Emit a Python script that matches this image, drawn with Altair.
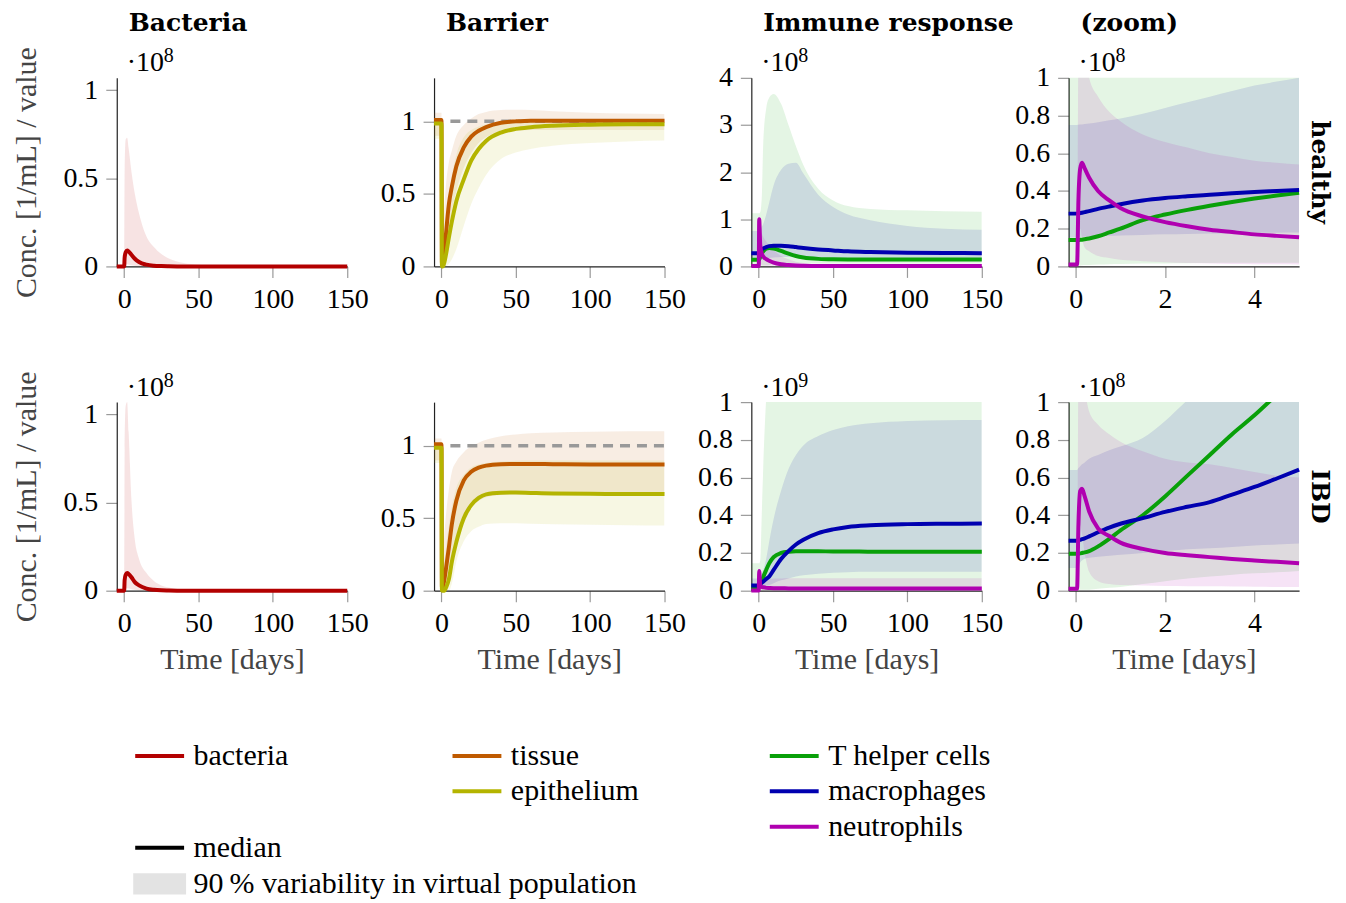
import altair as alt
import pandas as pd

# ------------------------------------------------------------------ data
T_LONG = [-5, 0, 0.3, 1, 2, 3, 5, 7, 10, 15, 20, 25, 30, 40, 50, 60, 75, 100, 125, 150]
T_ZOOM = [-0.16, 0.03, 0.06, 0.1, 0.14, 0.2, 0.3, 0.5, 0.75, 1, 1.5, 2, 2.5, 3, 3.5, 4, 4.5, 5]

# Bacteria (x 1e8)
BAC_H_MED = [0, 0, 0.05, 0.08, 0.09, 0.085, 0.065, 0.045, 0.025, 0.01, 0.004, 0.002, 0.001, 0, 0, 0, 0, 0, 0, 0]
BAC_H_LO = [0, 0, 0.005, 0.01, 0.012, 0.01, 0.007, 0.004, 0.002, 0.001, 0, 0, 0, 0, 0, 0, 0, 0, 0, 0]
BAC_H_HI = [0, 0, 0.55, 0.72, 0.73, 0.67, 0.53, 0.42, 0.3, 0.17, 0.11, 0.07, 0.045, 0.02, 0.01, 0.005, 0.002, 0, 0, 0]
BAC_I_MED = [0, 0, 0.06, 0.09, 0.1, 0.095, 0.075, 0.05, 0.03, 0.012, 0.005, 0.002, 0.001, 0, 0, 0, 0, 0, 0, 0]
BAC_I_LO = [0, 0, 0.006, 0.012, 0.014, 0.012, 0.008, 0.005, 0.002, 0.001, 0, 0, 0, 0, 0, 0, 0, 0, 0, 0]
BAC_I_HI = [0, 0, 0.8, 1.05, 1.07, 0.9, 0.5, 0.3, 0.18, 0.1, 0.055, 0.03, 0.018, 0.008, 0.004, 0.002, 0, 0, 0, 0]

# Barrier (relative value)
TIS_H_MED = [1.01, 1.01, 0.02, 0.03, 0.1, 0.22, 0.43, 0.55, 0.69, 0.82, 0.895, 0.935, 0.96, 0.99, 1.0, 1.005, 1.005, 1.005, 1.005, 1.005]
TIS_H_LO = [0.9, 0.9, 0.0, 0.0, 0.03, 0.1, 0.25, 0.38, 0.52, 0.68, 0.78, 0.85, 0.89, 0.925, 0.935, 0.94, 0.94, 0.94, 0.94, 0.94]
TIS_H_HI = [1.06, 1.06, 0.1, 0.25, 0.42, 0.56, 0.72, 0.8, 0.9, 0.975, 1.02, 1.05, 1.065, 1.078, 1.08, 1.078, 1.07, 1.06, 1.055, 1.05]
EPI_H_MED = [0.985, 0.985, 0.0, 0.0, 0.03, 0.08, 0.2, 0.31, 0.45, 0.6, 0.73, 0.81, 0.865, 0.923, 0.948, 0.96, 0.97, 0.977, 0.98, 0.98]
EPI_H_LO = [0.88, 0.88, 0.0, 0.0, 0.0, 0.0, 0.02, 0.05, 0.12, 0.28, 0.43, 0.54, 0.63, 0.74, 0.785, 0.81, 0.832, 0.85, 0.862, 0.868]
EPI_H_HI = [1.0, 1.0, 0.05, 0.1, 0.2, 0.32, 0.5, 0.63, 0.77, 0.89, 0.94, 0.965, 0.978, 0.99, 0.995, 0.998, 1.0, 1.0, 1.0, 1.0]
TIS_I_MED = [1.01, 1.01, 0.02, 0.03, 0.08, 0.15, 0.3, 0.46, 0.62, 0.76, 0.82, 0.848, 0.862, 0.872, 0.874, 0.874, 0.872, 0.87, 0.87, 0.87]
TIS_I_LO = [0.9, 0.9, 0.0, 0.0, 0.0, 0.02, 0.08, 0.18, 0.32, 0.48, 0.57, 0.62, 0.645, 0.66, 0.665, 0.665, 0.665, 0.665, 0.665, 0.665]
TIS_I_HI = [1.05, 1.05, 0.1, 0.25, 0.4, 0.52, 0.7, 0.82, 0.89, 0.955, 0.995, 1.02, 1.04, 1.065, 1.077, 1.085, 1.09, 1.095, 1.1, 1.1]
EPI_I_MED = [0.985, 0.985, 0.0, 0.0, 0.0, 0.02, 0.08, 0.2, 0.335, 0.5, 0.59, 0.64, 0.664, 0.675, 0.677, 0.674, 0.67, 0.668, 0.667, 0.667]
EPI_I_LO = [0.88, 0.88, 0.0, 0.0, 0.0, 0.0, 0.0, 0.05, 0.2, 0.34, 0.41, 0.44, 0.46, 0.465, 0.465, 0.462, 0.458, 0.455, 0.452, 0.45]
EPI_I_HI = [1.0, 1.0, 0.05, 0.1, 0.2, 0.3, 0.45, 0.58, 0.71, 0.8, 0.85, 0.87, 0.88, 0.89, 0.895, 0.897, 0.897, 0.897, 0.897, 0.897]
REF_T = [6, 150]
REF_V = [1, 1]

# Immune response, healthy (x 1e8)
THC_H_MED = [0.14, 0.14, 0.15, 0.2, 0.28, 0.32, 0.38, 0.39, 0.38, 0.33, 0.27, 0.22, 0.19, 0.16, 0.15, 0.148, 0.147, 0.146, 0.146, 0.146]
THC_H_LO = [0.01, 0.01, 0.01, 0.01, 0.01, 0.015, 0.02, 0.03, 0.04, 0.05, 0.055, 0.06, 0.06, 0.06, 0.06, 0.06, 0.06, 0.06, 0.06, 0.06]
THC_H_HI = [1.13, 1.13, 1.13, 1.15, 1.45, 2.6, 3.35, 3.58, 3.66, 3.45, 3.0, 2.55, 2.15, 1.65, 1.4, 1.28, 1.22, 1.19, 1.17, 1.16]
MAC_H_MED = [0.28, 0.28, 0.29, 0.33, 0.365, 0.38, 0.41, 0.43, 0.44, 0.44, 0.43, 0.41, 0.39, 0.36, 0.34, 0.32, 0.305, 0.29, 0.285, 0.28]
MAC_H_LO = [0.15, 0.15, 0.15, 0.15, 0.155, 0.16, 0.17, 0.18, 0.19, 0.2, 0.2, 0.2, 0.19, 0.18, 0.17, 0.165, 0.16, 0.16, 0.16, 0.16]
MAC_H_HI = [0.75, 0.75, 0.76, 0.77, 0.84, 0.9, 1.1, 1.35, 1.72, 2.05, 2.18, 2.2, 1.97, 1.52, 1.26, 1.1, 0.98, 0.86, 0.8, 0.78]
NEU_H_MED = [0.01, 0.01, 1.0, 0.45, 0.28, 0.21, 0.155, 0.12, 0.08, 0.045, 0.03, 0.02, 0.015, 0.01, 0.01, 0.01, 0.01, 0.01, 0.01, 0.01]
NEU_H_LO = [0.003, 0.003, 0.2, 0.04, 0.03, 0.02, 0.015, 0.01, 0.008, 0.005, 0.004, 0.003, 0.003, 0.003, 0.003, 0.003, 0.003, 0.003, 0.003, 0.003]
NEU_H_HI = [0.02, 0.02, 1.1, 0.8, 0.7, 0.63, 0.53, 0.45, 0.35, 0.22, 0.15, 0.1, 0.07, 0.04, 0.03, 0.03, 0.03, 0.03, 0.03, 0.03]

# Immune response, IBD (x 1e9)
THC_I_MED = [0.02, 0.02, 0.021, 0.032, 0.05, 0.072, 0.11, 0.145, 0.178, 0.2, 0.207, 0.209, 0.209, 0.209, 0.208, 0.208, 0.207, 0.207, 0.206, 0.206]
THC_I_LO = [0.003, 0.003, 0.003, 0.003, 0.003, 0.003, 0.004, 0.004, 0.005, 0.005, 0.005, 0.005, 0.005, 0.005, 0.005, 0.005, 0.005, 0.005, 0.005, 0.005]
THC_I_HI = [0.145, 0.145, 0.145, 0.16, 0.4, 0.65, 1.02, 1.2, 1.3, 1.3, 1.3, 1.3, 1.3, 1.3, 1.3, 1.3, 1.3, 1.3, 1.3, 1.3]
MAC_I_MED = [0.027, 0.027, 0.029, 0.036, 0.042, 0.048, 0.062, 0.075, 0.11, 0.168, 0.21, 0.245, 0.27, 0.305, 0.325, 0.338, 0.347, 0.353, 0.355, 0.356]
MAC_I_LO = [0.012, 0.012, 0.013, 0.015, 0.02, 0.022, 0.025, 0.03, 0.04, 0.055, 0.065, 0.075, 0.082, 0.09, 0.095, 0.098, 0.1, 0.1, 0.1, 0.1]
MAC_I_HI = [0.064, 0.064, 0.07, 0.076, 0.09, 0.11, 0.17, 0.26, 0.38, 0.53, 0.645, 0.72, 0.77, 0.82, 0.852, 0.872, 0.888, 0.9, 0.904, 0.905]
NEU_I_MED = [0.001, 0.001, 0.105, 0.03, 0.02, 0.018, 0.015, 0.014, 0.013, 0.013, 0.012, 0.012, 0.012, 0.012, 0.012, 0.012, 0.012, 0.012, 0.012, 0.012]
NEU_I_LO = [0.0005, 0.0005, 0.02, 0.004, 0.003, 0.002, 0.002, 0.002, 0.002, 0.002, 0.002, 0.002, 0.002, 0.002, 0.002, 0.002, 0.002, 0.002, 0.002, 0.002]
NEU_I_HI = [0.002, 0.002, 0.11, 0.08, 0.07, 0.067, 0.06, 0.062, 0.064, 0.065, 0.066, 0.066, 0.066, 0.066, 0.066, 0.066, 0.066, 0.066, 0.066, 0.066]

# Zoom, healthy (x 1e8)
THC_HZ_MED = [0.14, 0.14, 0.14, 0.141, 0.142, 0.144, 0.148, 0.16, 0.18, 0.2, 0.245, 0.275, 0.3, 0.322, 0.342, 0.36, 0.376, 0.39]
THC_HZ_LO = [0.005, 0.005, 0.005, 0.005, 0.006, 0.007, 0.008, 0.01, 0.012, 0.013, 0.015, 0.016, 0.017, 0.018, 0.019, 0.02, 0.02, 0.02]
THC_HZ_HI = [1.13, 1.13, 1.13, 1.13, 1.13, 1.13, 1.13, 1.13, 1.14, 1.15, 1.25, 1.45, 1.9, 2.6, 3.0, 3.2, 3.3, 3.35]
MAC_HZ_MED = [0.28, 0.28, 0.281, 0.283, 0.285, 0.288, 0.293, 0.305, 0.318, 0.33, 0.35, 0.363, 0.372, 0.38, 0.388, 0.395, 0.4, 0.405]
MAC_HZ_LO = [0.153, 0.153, 0.154, 0.155, 0.156, 0.157, 0.158, 0.16, 0.162, 0.164, 0.167, 0.17, 0.172, 0.174, 0.176, 0.178, 0.179, 0.18]
MAC_HZ_HI = [0.75, 0.75, 0.751, 0.752, 0.753, 0.755, 0.758, 0.765, 0.775, 0.785, 0.81, 0.84, 0.87, 0.9, 0.93, 0.96, 0.98, 1.0]
NEU_HZ_MED = [0.01, 0.01, 0.35, 0.52, 0.55, 0.52, 0.47, 0.40, 0.35, 0.31, 0.265, 0.235, 0.213, 0.195, 0.182, 0.17, 0.162, 0.155]
NEU_HZ_LO = [0.005, 0.005, 0.1, 0.2, 0.15, 0.1, 0.08, 0.055, 0.045, 0.035, 0.028, 0.022, 0.018, 0.015, 0.013, 0.012, 0.011, 0.01]
NEU_HZ_HI = [0.02, 0.02, 1.2, 1.4, 1.3, 1.15, 1.0, 0.9, 0.82, 0.77, 0.7, 0.66, 0.63, 0.6, 0.58, 0.56, 0.55, 0.54]

# Zoom, IBD (x 1e8)
THC_IZ_MED = [0.196, 0.196, 0.197, 0.198, 0.2, 0.203, 0.21, 0.235, 0.275, 0.32, 0.4, 0.5, 0.61, 0.72, 0.83, 0.93, 1.04, 1.15]
THC_IZ_LO = [0.005, 0.005, 0.005, 0.005, 0.005, 0.005, 0.005, 0.01, 0.015, 0.02, 0.035, 0.05, 0.065, 0.075, 0.085, 0.092, 0.098, 0.105]
THC_IZ_HI = [1.45, 1.45, 1.45, 1.46, 1.47, 1.5, 1.55, 1.6, 1.7, 1.9, 2.6, 4.0, 5.5, 6.5, 7.5, 8.5, 9.5, 10.2]
MAC_IZ_MED = [0.265, 0.265, 0.267, 0.27, 0.273, 0.278, 0.288, 0.31, 0.335, 0.355, 0.385, 0.418, 0.445, 0.47, 0.51, 0.55, 0.595, 0.642]
MAC_IZ_LO = [0.12, 0.12, 0.13, 0.15, 0.16, 0.17, 0.175, 0.18, 0.185, 0.19, 0.2, 0.21, 0.22, 0.225, 0.232, 0.24, 0.245, 0.25]
MAC_IZ_HI = [0.64, 0.64, 0.65, 0.66, 0.67, 0.68, 0.7, 0.72, 0.745, 0.765, 0.81, 0.9, 1.01, 1.1, 1.22, 1.35, 1.5, 1.7]
NEU_IZ_MED = [0.01, 0.01, 0.35, 0.53, 0.54, 0.5, 0.42, 0.33, 0.29, 0.255, 0.222, 0.2, 0.188, 0.178, 0.168, 0.16, 0.153, 0.146]
NEU_IZ_LO = [0.005, 0.005, 0.2, 0.35, 0.3, 0.2, 0.1, 0.05, 0.035, 0.03, 0.027, 0.025, 0.024, 0.023, 0.022, 0.021, 0.02, 0.02]
NEU_IZ_HI = [0.02, 0.02, 1.2, 1.4, 1.3, 1.1, 0.95, 0.88, 0.83, 0.79, 0.74, 0.7, 0.68, 0.67, 0.65, 0.63, 0.61, 0.6]

HEADERS = ["Bacteria", "Barrier", "Immune response", "(zoom)"]
ROW_LABELS = ["healthy", "IBD"]
Y_TITLE = "Conc. [1/mL] / value"
X_TITLE = "Time [days]"

LEGEND_LABELS = ["bacteria", "tissue", "epithelium", "T helper cells", "macrophages",
                 "neutrophils", "median", "90\u2009% variability in virtual population"]
LEGEND_COLORS = ["#b30000", "#bf5a00", "#b4b400", "#09a009", "#0000b0", "#b000b0", "#000000", "#e3e3e3"]
LEGEND_COLUMN = [0, 1, 1, 2, 2, 2, 0, 0]
LEGEND_ROW = [0, 0, 1, 0, 1, 2, 2.6, 3.62]

COLORS = dict(zip(LEGEND_LABELS[:6], LEGEND_COLORS[:6]))

# ------------------------------------------------------------------ style
FONT = "Liberation Serif"
BOLD = "DejaVu Serif"
W, H = 231, 189
LINE_W = 4
BAND_OPACITY = 0.11


def x_enc(domain, values, title):
    return alt.X("t:Q", scale=alt.Scale(domain=domain, nice=False, zero=False),
                 axis=alt.Axis(values=values, format="d", title=title))


def y_enc(field, domain, values, title):
    return alt.Y(f"{field}:Q", scale=alt.Scale(domain=domain, nice=False, zero=False),
                 axis=alt.Axis(values=values, format="~g", title=title))


def note(text, x, y, size, font=FONT, weight="normal", angle=0, align="left", baseline="alphabetic"):
    return alt.Chart(pd.DataFrame({"label": [text]})).mark_text(
        font=font, fontSize=size, fontWeight=weight, angle=angle, align=align,
        baseline=baseline, color="#000000").encode(text="label:N", x=alt.value(x), y=alt.value(y))


def panel(t, series, x_dom, x_vals, y_dom, y_vals, y_title, x_title,
          header=None, exponent=None, row_label=None, ref=False):
    X = x_enc(x_dom, x_vals, x_title)
    layers = []
    for name, med, lo, hi in series:
        df = pd.DataFrame({"t": t, "lo": lo, "hi": hi})
        layers.append(alt.Chart(df).mark_area(
            color=COLORS[name], opacity=BAND_OPACITY, interpolate="monotone", clip=True
        ).encode(x=X, y=y_enc("lo", y_dom, y_vals, y_title), y2="hi:Q"))
    if ref:
        df = pd.DataFrame({"t": REF_T, "v": REF_V})
        layers.append(alt.Chart(df).mark_line(color="#999999", strokeWidth=3.5, strokeDash=[10, 7]).encode(
            x=X, y=y_enc("v", y_dom, y_vals, y_title)))
    for name, med, lo, hi in series:
        df = pd.DataFrame({"t": t, "med": med})
        layers.append(alt.Chart(df).mark_line(
            color=COLORS[name], strokeWidth=LINE_W, interpolate="monotone",
            clip=bool(max(med) > y_dom[1])
        ).encode(x=X, y=y_enc("med", y_dom, y_vals, y_title)))
    if header:
        layers.append(note(header, 12, -46.6, 25, font=BOLD, weight="bold"))
    if exponent:
        layers.append(note("\u00b710", 10, -6.6, 28))
        layers.append(note(exponent, 47, -15.5, 20))
    if row_label:
        layers.append(note(row_label, W + 21, H / 2, 25, font=BOLD, weight="bold", angle=90,
                           align="center", baseline="middle"))
    return alt.layer(*layers).properties(width=W, height=H)


def row(cond, bac, tis, epi, thc, mac, neu, thcz, macz, neuz, x_title, with_header, imm_dom, imm_vals, imm_exp):
    hdr = HEADERS if with_header else [None] * 4
    return [
        panel(T_LONG, [("bacteria", *bac)], [-5, 150], [0, 50, 100, 150], [0, 1.07], [0, 0.5, 1],
              Y_TITLE, x_title, header=hdr[0], exponent="8"),
        panel(T_LONG, [("tissue", *tis), ("epithelium", *epi)], [-5, 150], [0, 50, 100, 150],
              [0, 1.3], [0, 0.5, 1], None, x_title, header=hdr[1], ref=True),
        panel(T_LONG, [("T helper cells", *thc), ("macrophages", *mac), ("neutrophils", *neu)],
              [-5, 150], [0, 50, 100, 150], imm_dom, imm_vals, None, x_title,
              header=hdr[2], exponent=imm_exp),
        panel(T_ZOOM, [("T helper cells", *thcz), ("macrophages", *macz), ("neutrophils", *neuz)],
              [-0.16, 5], [0, 2, 4], [0, 1], [0, 0.2, 0.4, 0.6, 0.8, 1], None, x_title,
              header=hdr[3], exponent="8", row_label=cond),
    ]


row1 = row("healthy",
           (BAC_H_MED, BAC_H_LO, BAC_H_HI), (TIS_H_MED, TIS_H_LO, TIS_H_HI), (EPI_H_MED, EPI_H_LO, EPI_H_HI),
           (THC_H_MED, THC_H_LO, THC_H_HI), (MAC_H_MED, MAC_H_LO, MAC_H_HI), (NEU_H_MED, NEU_H_LO, NEU_H_HI),
           (THC_HZ_MED, THC_HZ_LO, THC_HZ_HI), (MAC_HZ_MED, MAC_HZ_LO, MAC_HZ_HI), (NEU_HZ_MED, NEU_HZ_LO, NEU_HZ_HI),
           None, True, [0, 4], [0, 1, 2, 3, 4], "8")
row2 = row("IBD",
           (BAC_I_MED, BAC_I_LO, BAC_I_HI), (TIS_I_MED, TIS_I_LO, TIS_I_HI), (EPI_I_MED, EPI_I_LO, EPI_I_HI),
           (THC_I_MED, THC_I_LO, THC_I_HI), (MAC_I_MED, MAC_I_LO, MAC_I_HI), (NEU_I_MED, NEU_I_LO, NEU_I_HI),
           (THC_IZ_MED, THC_IZ_LO, THC_IZ_HI), (MAC_IZ_MED, MAC_IZ_LO, MAC_IZ_HI), (NEU_IZ_MED, NEU_IZ_LO, NEU_IZ_HI),
           X_TITLE, False, [0, 1], [0, 0.2, 0.4, 0.6, 0.8, 1], "9")

# ------------------------------------------------------------------ legend
# legend cell has the panel width; its columns step by one panel pitch (318 px)
leg = pd.DataFrame({"label": LEGEND_LABELS, "color": LEGEND_COLORS,
                    "col": LEGEND_COLUMN, "row": LEGEND_ROW})
LX = alt.X("col:Q", scale=alt.Scale(domain=[-0.1352, 0.5912], nice=False, zero=False), axis=None)
LY = alt.Y("row:Q", scale=alt.Scale(domain=[-0.84, 3.85], nice=False, zero=False, reverse=True), axis=None)
leg_lines = alt.Chart(leg.iloc[:7]).mark_point(shape="stroke", size=2401, strokeWidth=4, filled=False, opacity=1).encode(
    x=LX, y=LY, color=alt.Color("label:N", scale=alt.Scale(domain=LEGEND_LABELS, range=LEGEND_COLORS), legend=None))
leg_rect = alt.Chart(leg.iloc[7:]).mark_point(shape="M-1,-0.4L1,-0.4L1,0.4L-1,0.4Z", size=2809, filled=True,
                                              opacity=1, strokeWidth=0, color="#e3e3e3").encode(x=LX, y=LY)
leg_text = alt.Chart(leg).mark_text(align="left", baseline="middle", dx=34, fontSize=30, font=FONT,
                                    color="#000000").encode(x=LX, y=LY, text="label:N")
legend = alt.layer(leg_lines, leg_rect, leg_text).properties(width=W, height=166)

chart = alt.concat(*row1, *row2, legend, columns=4, spacing={"row": 136, "column": 87},
                   bounds="flush").properties(
    padding={"left": 3, "top": 2, "right": 6, "bottom": 0}
).configure(font=FONT).configure_view(stroke=None).configure_axis(
    domainColor="#222222", domainWidth=1.2, tickColor="#9a9a9a", tickWidth=1.2, tickSize=11,
    labelFont=FONT, labelFontSize=28, labelColor="#000000", labelPadding=8, labelFlush=False,
    labelOverlap=False, titleFont=FONT, titleFontSize=30, titleFontWeight="normal", titleColor="#444444",
    grid=False
).configure_axisX(titlePadding=7).configure_axisY(titlePadding=21)

chart.save("out.html", embed_options={"renderer": "svg", "actions": False})
